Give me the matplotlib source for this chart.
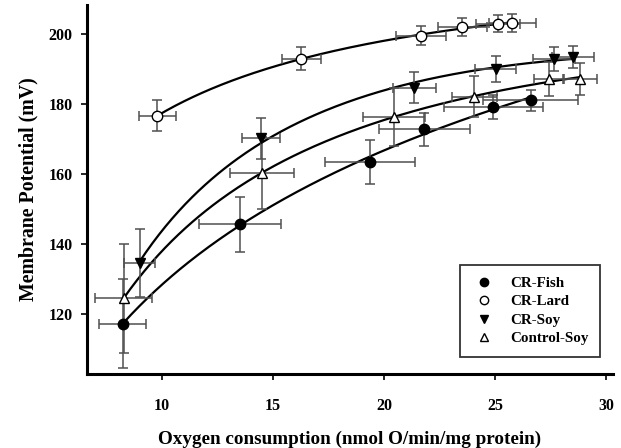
import numpy as np
import matplotlib
matplotlib.use("Agg")
import matplotlib.pyplot as plt

plt.rcParams['font.family'] = ['Liberation Serif', 'DejaVu Serif']
plt.rcParams['font.weight'] = 'bold'

# CR-Fish
fish_x = [8.23, 13.51, 19.37, 21.8, 24.93, 26.6]
fish_y = [117.4, 145.7, 163.5, 172.9, 179.2, 181.1]
fish_xe = [1.06, 1.85, 2.04, 2.05, 2.24, 2.15]
fish_ye = [12.6, 7.9, 6.4, 4.7, 3.4, 3.0]
# CR-Lard
lard_x = [9.79, 16.27, 21.67, 23.53, 25.12, 25.78]
lard_y = [176.7, 193.0, 199.5, 201.9, 203.0, 203.2]
lard_xe = [0.82, 0.88, 1.13, 1.1, 1.0, 1.05]
lard_ye = [4.5, 3.4, 2.7, 2.6, 2.5, 2.5]
# CR-Soy
soy_x = [8.98, 14.45, 21.37, 25.03, 27.66, 28.53]
soy_y = [134.7, 170.2, 184.7, 190.0, 192.9, 193.5]
soy_xe = [0.7, 0.85, 0.95, 0.92, 0.93, 0.95]
soy_ye = [9.8, 5.9, 4.4, 3.7, 3.5, 3.2]
# Control-Soy
ctl_x = [8.26, 14.49, 20.46, 24.07, 27.43, 28.83]
ctl_y = [124.6, 160.4, 176.4, 182.1, 187.1, 187.2]
ctl_xe = [1.28, 1.44, 1.39, 1.0, 0.68, 0.75]
ctl_ye = [15.5, 10.2, 8.2, 5.8, 4.8, 4.5]

series = [
    ("CR-Fish", fish_x, fish_y, fish_xe, fish_ye, 'o', 'black'),
    ("CR-Lard", lard_x, lard_y, lard_xe, lard_ye, 'o', 'white'),
    ("CR-Soy", soy_x, soy_y, soy_xe, soy_ye, 'v', 'black'),
    ("Control-Soy", ctl_x, ctl_y, ctl_xe, ctl_ye, '^', 'white'),
]

fig = plt.figure(figsize=(6.21, 4.48), dpi=100)
ax = fig.add_axes([0.1396, 0.165, 0.847, 0.824])

handles = []
for name, x, y, xe, ye, m, fc in series:
    x = np.array(x); y = np.array(y)
    coef = np.polyfit(np.log(x), y, 2)
    xs = np.linspace(x.min(), x.max(), 200)
    ax.plot(xs, np.polyval(coef, np.log(xs)), color='black', lw=1.6, zorder=2)
    ax.errorbar(x, y, xerr=xe, yerr=ye, fmt='none', ecolor='#505050',
                elinewidth=1.1, capsize=3.5, capthick=1.1, zorder=3)
    ms = 7.5 if m == 'o' else 7
    h, = ax.plot(x, y, linestyle='none', marker=m, markersize=ms,
                 markerfacecolor=fc, markeredgecolor='black',
                 markeredgewidth=1.0, zorder=4, label=name)
    handles.append(h)

ax.set_xlim(6.6, 30.3)
ax.set_ylim(103, 208.3)
ax.set_xticks([10, 15, 20, 25, 30])
ax.set_yticks([120, 140, 160, 180, 200])
for s in ['top', 'right']:
    ax.spines[s].set_visible(False)
for s in ['left', 'bottom']:
    ax.spines[s].set_linewidth(2.2)
ax.tick_params(axis='both', direction='out', length=4, width=1.2,
               labelsize=11.5, pad=13)
ax.tick_params(axis='y', pad=6)
for lbl in ax.get_xticklabels() + ax.get_yticklabels():
    lbl.set_fontweight('bold')

ax.set_xlabel("Oxygen consumption (nmol O/min/mg protein)", fontsize=13.8,
              fontweight='bold', labelpad=12)
ax.set_ylabel("Membrane Potential (mV)", fontsize=14.3, fontweight='bold',
              labelpad=7)

leg = ax.legend(handles=handles, loc='lower right',
                bbox_to_anchor=(0.99, 0.027), frameon=True, fancybox=False,
                edgecolor='black', prop={'weight': 'bold', 'size': 10.8},
                handletextpad=0.9, borderpad=0.75, labelspacing=0.33,
                handlelength=1.7)
leg.get_frame().set_linewidth(1.3)
for h in leg.legend_handles:
    h.set_markersize(6)

fig.savefig("out.png", dpi=100)
